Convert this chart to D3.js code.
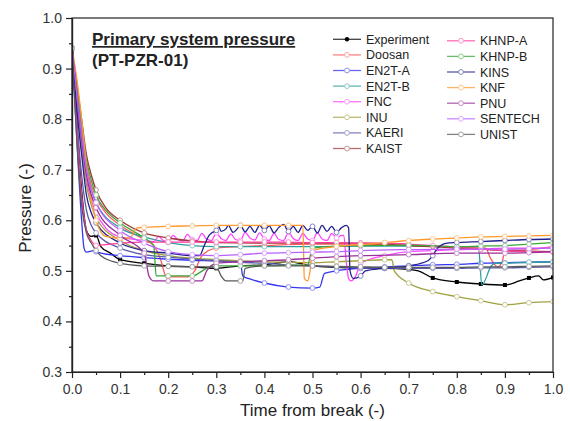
<!DOCTYPE html>
<html><head><meta charset="utf-8">
<script src="https://cdn.jsdelivr.net/npm/d3@7"></script>
<style>body{margin:0;background:#fff} text{font-family:Arial,"Liberation Sans",sans-serif}</style>
</head><body><svg id="c" width="570" height="421"></svg>
<script>
const xTickLabels = [0,0.1,0.2,0.3,0.4,0.5,0.6,0.7,0.8,0.9,1.0];
const xMinorTicks = [0.05,0.15,0.25,0.35,0.45,0.55,0.65,0.75,0.85,0.95];
const yTickLabels = [0.3,0.4,0.5,0.6,0.7,0.8,0.9,1.0];
const yMinorTicks = [0.35,0.45,0.55,0.65,0.75,0.85,0.95];
const seriesNames = ["Experiment","Doosan","EN2T-A","EN2T-B","FNC","INU","KAERI","KAIST",
  "KHNP-A","KHNP-B","KINS","KNF","PNU","SENTECH","UNIST"];
const seriesColors = ["#000000","#ff5a5a","#3535f0","#2e9e9e","#ff45ff","#a0a040","#5a5aa8","#a03838",
  "#ff3d9e","#3aa63a","#20208f","#ff9a30","#9a309a","#b860ff","#5a5a5a"];

const experiment = [[0,0.93],[0.01,0.79],[0.02,0.66],[0.03,0.58],[0.04,0.568],[0.05,0.57],[0.06,0.548],[0.08,0.535],[0.1,0.522],[0.15,0.515],[0.2,0.51],[0.25,0.508],[0.3,0.505],[0.35,0.51],[0.4,0.512],[0.45,0.518],[0.5,0.51],[0.55,0.507],[0.6,0.505],[0.65,0.505],[0.7,0.503],[0.72,0.5],[0.75,0.486],[0.8,0.478],[0.85,0.474],[0.9,0.472],[0.93,0.48],[0.95,0.486],[0.97,0.49],[0.98,0.482],[1.0,0.487]];
const doosan = [[0,0.94],[0.01,0.86],[0.02,0.78],[0.03,0.71],[0.04,0.67],[0.05,0.645],[0.07,0.615],[0.1,0.59],[0.15,0.562],[0.17,0.55],[0.185,0.52],[0.195,0.49],[0.2,0.488],[0.24,0.488],[0.255,0.5],[0.27,0.53],[0.3,0.545],[0.35,0.548],[0.4,0.55],[0.5,0.553],[0.6,0.553],[0.7,0.55],[0.8,0.547],[0.86,0.545],[0.87,0.525],[0.885,0.508],[0.895,0.52],[0.9,0.54],[0.95,0.542],[1.0,0.548]];
const en2tA = [[0,0.94],[0.01,0.76],[0.02,0.6],[0.025,0.545],[0.03,0.537],[0.045,0.54],[0.05,0.538],[0.06,0.535],[0.1,0.53],[0.15,0.526],[0.2,0.523],[0.25,0.521],[0.3,0.52],[0.35,0.518],[0.355,0.49],[0.37,0.484],[0.4,0.476],[0.45,0.468],[0.5,0.466],[0.515,0.468],[0.525,0.495],[0.55,0.5],[0.6,0.505],[0.65,0.508],[0.7,0.51],[0.75,0.512],[0.8,0.513],[0.85,0.515],[0.9,0.516],[0.95,0.517],[1.0,0.518]];
const en2tB = [[0,0.94],[0.01,0.85],[0.02,0.77],[0.03,0.7],[0.04,0.66],[0.05,0.635],[0.1,0.585],[0.15,0.567],[0.2,0.556],[0.25,0.55],[0.3,0.548],[0.35,0.548],[0.4,0.548],[0.5,0.548],[0.6,0.549],[0.7,0.549],[0.8,0.548],[0.845,0.548],[0.852,0.472],[0.872,0.51],[0.88,0.515],[0.9,0.515],[0.95,0.517],[1.0,0.518]];
const fnc = [[0,0.94],[0.01,0.84],[0.02,0.75],[0.03,0.68],[0.04,0.64],[0.05,0.615],[0.07,0.585],[0.1,0.567],[0.15,0.56],[0.17,0.558],[0.18,0.568],[0.19,0.56],[0.2,0.558],[0.21,0.57],[0.22,0.562],[0.23,0.559],[0.24,0.572],[0.25,0.562],[0.26,0.56],[0.27,0.574],[0.28,0.563],[0.29,0.56],[0.3,0.575],[0.31,0.564],[0.32,0.56],[0.33,0.573],[0.34,0.562],[0.35,0.56],[0.36,0.576],[0.37,0.565],[0.38,0.561],[0.39,0.575],[0.4,0.563],[0.41,0.56],[0.42,0.574],[0.43,0.562],[0.44,0.56],[0.45,0.576],[0.46,0.564],[0.47,0.56],[0.48,0.574],[0.49,0.563],[0.5,0.56],[0.51,0.575],[0.52,0.563],[0.53,0.56],[0.54,0.574],[0.55,0.565],[0.56,0.57],[0.565,0.57],[0.57,0.52],[0.575,0.485],[0.58,0.48],[0.59,0.49],[0.6,0.515],[0.65,0.53],[0.7,0.538],[0.75,0.54],[0.8,0.542],[0.85,0.543],[0.9,0.545],[0.95,0.545],[1.0,0.546]];
const inu = [[0,0.94],[0.01,0.83],[0.02,0.74],[0.03,0.67],[0.04,0.63],[0.05,0.605],[0.1,0.56],[0.15,0.54],[0.2,0.53],[0.25,0.525],[0.3,0.522],[0.35,0.52],[0.4,0.518],[0.45,0.517],[0.5,0.516],[0.55,0.518],[0.6,0.52],[0.65,0.522],[0.665,0.522],[0.67,0.5],[0.7,0.476],[0.75,0.459],[0.8,0.449],[0.85,0.441],[0.9,0.433],[0.95,0.437],[1.0,0.439]];
const kaeri = [[0,0.94],[0.01,0.8],[0.02,0.69],[0.03,0.62],[0.04,0.59],[0.05,0.575],[0.1,0.545],[0.15,0.532],[0.2,0.527],[0.25,0.523],[0.3,0.52],[0.35,0.517],[0.4,0.515],[0.45,0.512],[0.5,0.51],[0.55,0.508],[0.6,0.506],[0.65,0.505],[0.7,0.505],[0.75,0.505],[0.8,0.505],[0.85,0.506],[0.9,0.506],[0.95,0.507],[1.0,0.508]];
const kaist = [[0,0.94],[0.01,0.87],[0.02,0.8],[0.03,0.73],[0.04,0.69],[0.05,0.66],[0.07,0.625],[0.1,0.6],[0.15,0.575],[0.2,0.565],[0.25,0.559],[0.3,0.556],[0.4,0.555],[0.5,0.555],[0.6,0.555],[0.7,0.55],[0.75,0.548],[0.8,0.545],[0.85,0.543],[0.9,0.54],[0.95,0.539],[1.0,0.538]];
const khnpA = [[0,0.94],[0.01,0.78],[0.02,0.65],[0.03,0.58],[0.04,0.56],[0.05,0.55],[0.07,0.552],[0.1,0.555],[0.15,0.557],[0.2,0.557],[0.25,0.557],[0.3,0.557],[0.35,0.557],[0.4,0.557],[0.45,0.557],[0.5,0.556],[0.55,0.556],[0.6,0.555],[0.65,0.555],[0.7,0.553],[0.75,0.55],[0.8,0.547],[0.85,0.543],[0.9,0.54],[0.95,0.538],[1.0,0.537]];
const khnpB = [[0,0.94],[0.01,0.86],[0.02,0.79],[0.03,0.72],[0.04,0.68],[0.05,0.65],[0.07,0.62],[0.1,0.595],[0.15,0.565],[0.17,0.55],[0.175,0.49],[0.2,0.49],[0.25,0.49],[0.28,0.505],[0.3,0.51],[0.35,0.51],[0.4,0.51],[0.45,0.511],[0.49,0.512],[0.5,0.545],[0.55,0.549],[0.6,0.55],[0.7,0.551],[0.8,0.548],[0.85,0.549],[0.9,0.55],[0.95,0.553],[1.0,0.556]];
const kins = [[0,0.94],[0.01,0.82],[0.02,0.73],[0.03,0.65],[0.04,0.615],[0.05,0.595],[0.1,0.555],[0.15,0.54],[0.2,0.535],[0.25,0.53],[0.265,0.53],[0.275,0.55],[0.285,0.57],[0.29,0.575],[0.3,0.58],[0.305,0.588],[0.31,0.578],[0.32,0.583],[0.325,0.59],[0.335,0.576],[0.345,0.585],[0.35,0.59],[0.36,0.577],[0.37,0.588],[0.38,0.576],[0.39,0.59],[0.4,0.58],[0.41,0.589],[0.42,0.575],[0.43,0.586],[0.44,0.592],[0.45,0.578],[0.46,0.588],[0.47,0.576],[0.48,0.59],[0.49,0.58],[0.5,0.588],[0.51,0.575],[0.52,0.59],[0.53,0.578],[0.54,0.588],[0.55,0.576],[0.56,0.585],[0.57,0.59],[0.575,0.585],[0.578,0.5],[0.585,0.485],[0.6,0.49],[0.61,0.5],[0.65,0.505],[0.7,0.51],[0.74,0.52],[0.75,0.53],[0.76,0.545],[0.78,0.555],[0.8,0.556],[0.85,0.558],[0.9,0.56],[0.95,0.562],[1.0,0.563]];
const knf = [[0,0.94],[0.01,0.88],[0.02,0.8],[0.03,0.71],[0.04,0.64],[0.05,0.6],[0.07,0.568],[0.1,0.565],[0.12,0.565],[0.135,0.585],[0.15,0.586],[0.2,0.588],[0.25,0.589],[0.3,0.59],[0.35,0.59],[0.4,0.59],[0.45,0.59],[0.48,0.59],[0.483,0.485],[0.49,0.48],[0.495,0.5],[0.5,0.54],[0.55,0.548],[0.6,0.552],[0.65,0.556],[0.7,0.56],[0.75,0.563],[0.8,0.565],[0.85,0.567],[0.9,0.568],[0.95,0.569],[1.0,0.57]];
const pnu = [[0,0.94],[0.01,0.85],[0.02,0.76],[0.03,0.69],[0.04,0.65],[0.05,0.625],[0.1,0.57],[0.15,0.535],[0.16,0.49],[0.17,0.48],[0.2,0.48],[0.25,0.48],[0.27,0.48],[0.28,0.5],[0.3,0.515],[0.35,0.518],[0.4,0.52],[0.45,0.522],[0.5,0.525],[0.55,0.528],[0.6,0.53],[0.7,0.532],[0.8,0.535],[0.9,0.535],[0.95,0.536],[1.0,0.538]];
const sentech = [[0,0.94],[0.01,0.85],[0.02,0.77],[0.03,0.7],[0.04,0.66],[0.05,0.635],[0.1,0.58],[0.15,0.555],[0.2,0.538],[0.25,0.532],[0.3,0.53],[0.35,0.532],[0.4,0.535],[0.45,0.536],[0.5,0.537],[0.55,0.538],[0.6,0.54],[0.7,0.542],[0.8,0.543],[0.9,0.543],[0.95,0.544],[1.0,0.545]];
const unist = [[0,0.94],[0.01,0.76],[0.02,0.63],[0.03,0.575],[0.04,0.555],[0.05,0.54],[0.06,0.53],[0.08,0.52],[0.1,0.515],[0.15,0.51],[0.2,0.509],[0.25,0.508],[0.3,0.508],[0.31,0.49],[0.32,0.48],[0.35,0.48],[0.355,0.48],[0.36,0.505],[0.4,0.51],[0.45,0.51],[0.5,0.51],[0.55,0.509],[0.6,0.508],[0.65,0.507],[0.7,0.507],[0.75,0.507],[0.8,0.507],[0.85,0.508],[0.9,0.508],[0.95,0.509],[1.0,0.51]];

const seriesData = [experiment,doosan,en2tA,en2tB,fnc,inu,kaeri,kaist,khnpA,khnpB,kins,knf,pnu,sentech,unist];

const svg = d3.select("#c");
const x = d3.scaleLinear().domain([0,1]).range([72,553]);
const y = d3.scaleLinear().domain([0.3,1.0]).range([372,18]);
const fmt = d3.format(".1f");
const axisColor = "#222";

svg.append("defs").append("clipPath").attr("id","clip")
  .append("rect").attr("x",72).attr("y",18).attr("width",481).attr("height",354);

const line = d3.line().x(d=>x(d[0])).y(d=>y(d[1])).curve(d3.curveMonotoneX);
const plot = svg.append("g").attr("clip-path","url(#clip)");
const isMarkerT = t => Math.abs(t*20 - Math.round(t*20)) < 1e-6;
seriesData.forEach((data,i)=>{
  const g = plot.append("g");
  g.append("path").datum(data).attr("d",line).attr("fill","none")
    .attr("stroke",seriesColors[i]).attr("stroke-width",1.3).attr("stroke-linejoin","round");
  const pts = data.filter(d=>isMarkerT(d[0]));
  if(i===0){
    g.selectAll("rect").data(pts).join("rect")
      .attr("x",d=>x(d[0])-2).attr("y",d=>y(d[1])-2).attr("width",4).attr("height",4)
      .attr("fill","#000");
  } else {
    g.selectAll("circle").data(pts).join("circle")
      .attr("cx",d=>x(d[0])).attr("cy",d=>y(d[1])).attr("r",2.4)
      .attr("fill","#fff").attr("stroke",d3.interpolateRgb(seriesColors[i],"#fff")(0.45)).attr("stroke-width",1);
  }
});

svg.append("rect").attr("x",72).attr("y",18).attr("width",481).attr("height",354)
  .attr("fill","none").attr("stroke",axisColor).attr("stroke-width",1.2);

const xAxis = svg.append("g").attr("transform","translate(0,372)")
  .call(d3.axisBottom(x).tickValues(xTickLabels).tickFormat(fmt).tickSize(6).tickSizeOuter(0).tickPadding(6));
const xMinor = svg.append("g").attr("transform","translate(0,372)")
  .call(d3.axisBottom(x).tickValues(xMinorTicks).tickFormat("").tickSize(3).tickSizeOuter(0));
const yAxis = svg.append("g").attr("transform","translate(72,0)")
  .call(d3.axisLeft(y).tickValues(yTickLabels).tickFormat(fmt).tickSize(6).tickSizeOuter(0).tickPadding(4));
const yMinor = svg.append("g").attr("transform","translate(72,0)")
  .call(d3.axisLeft(y).tickValues(yMinorTicks).tickFormat("").tickSize(3).tickSizeOuter(0));
[xAxis,xMinor,yAxis,yMinor].forEach(a=>{
  a.select(".domain").attr("stroke",axisColor).attr("stroke-width",1.2);
  a.selectAll(".tick line").attr("stroke",axisColor).attr("stroke-width",1.2);
  a.selectAll("text").attr("font-size",14).attr("fill","#333").attr("font-family","Arial, 'Liberation Sans', sans-serif");
});

svg.append("text").attr("x",312.5).attr("y",416).attr("text-anchor","middle")
  .attr("font-size",17).attr("fill","#222").text("Time from break (-)");
svg.append("text").attr("transform","translate(31,208) rotate(-90)").attr("text-anchor","middle")
  .attr("font-size",17).attr("fill","#222").text("Pressure (-)");

svg.append("text").attr("x",92).attr("y",45).attr("font-size",17).attr("font-weight","bold")
  .attr("fill","#222").attr("text-decoration","underline").text("Primary system pressure");
svg.append("text").attr("x",92).attr("y",66).attr("font-size",17).attr("font-weight","bold")
  .attr("fill","#222").text("(PT-PZR-01)");

const leg = svg.append("g");
seriesNames.forEach((name,i)=>{
  const col = i<8 ? 0 : 1;
  const row = i<8 ? i : i-8;
  const lx = col===0 ? 333 : 447;
  const ly = (col===0 ? 39.3 : 40.8) + row*15.6;
  leg.append("line").attr("x1",lx).attr("x2",lx+28).attr("y1",ly).attr("y2",ly)
    .attr("stroke",d3.interpolateRgb(seriesColors[i],"#fff")(0.25)).attr("stroke-width",1.3);
  if(i===0){
    leg.append("circle").attr("cx",lx+14).attr("cy",ly).attr("r",2.2).attr("fill","#000");
  } else {
    leg.append("circle").attr("cx",lx+14).attr("cy",ly).attr("r",2.4).attr("fill","#fff")
      .attr("stroke",d3.interpolateRgb(seriesColors[i],"#fff")(0.45)).attr("stroke-width",1);
  }
  leg.append("text").attr("x",lx+33).attr("y",ly+4.5).attr("font-size",12.5).attr("fill","#222").text(name);
});
</script></body></html>
